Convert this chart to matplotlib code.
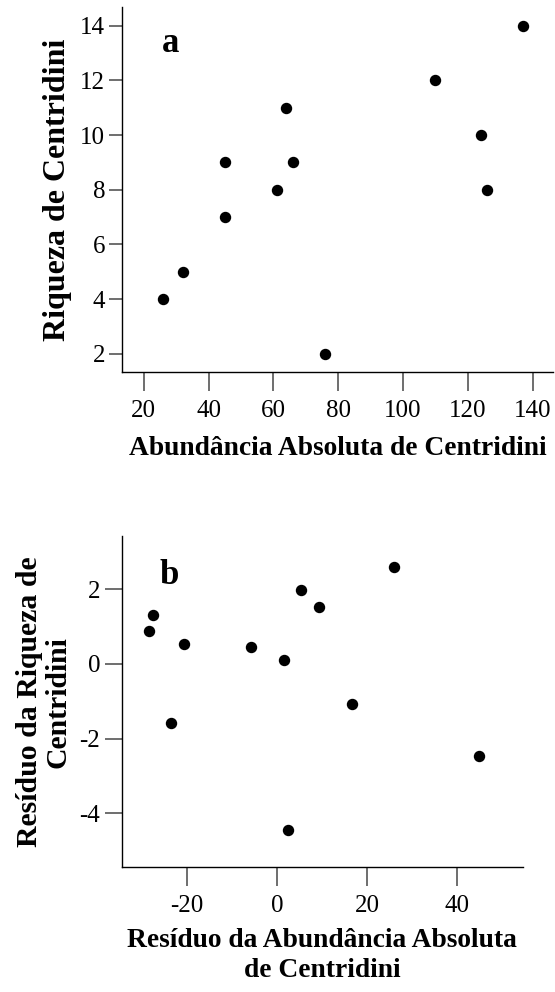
import matplotlib as mpl
mpl.use('Agg')
from matplotlib import pyplot as plt

plt.rcParams.update({
    'font.family': 'Liberation Serif',
    'font.size': 18,
    'axes.linewidth': 1.0,
    'xtick.color': '#555555',
    'ytick.color': '#555555',
    'xtick.labelcolor': 'black',
    'ytick.labelcolor': 'black',
    'xtick.major.width': 1.2,
    'ytick.major.width': 1.2,
})

# panel a: absolute abundance vs richness
abund = [26, 32, 45, 45, 61, 64, 66, 76, 110, 124, 126, 137]
riqueza = [4, 5, 9, 7, 8, 11, 9, 2, 12, 10, 8, 14]
xticks_a = [20, 40, 60, 80, 100, 120, 140]
yticks_a = [2, 4, 6, 8, 10, 12, 14]

# panel b: residuals
res_abund = [-28.4, -27.5, -20.7, -23.5, -5.8, 1.5, 2.5, 5.3, 9.3, 16.6, 25.9, 44.8]
res_riq = [0.87, 1.30, 0.54, -1.57, 0.45, 0.11, -4.45, 1.98, 1.52, -1.06, 2.61, -2.47]
xticks_b = [-20, 0, 20, 40]
yticks_b = [-4, -2, 0, 2]

fig = plt.figure(figsize=(5.55, 9.92), dpi=100)
ax1 = fig.add_axes([0.2204, 0.625, 0.776, 0.368])
ax2 = fig.add_axes([0.2193, 0.1257, 0.7225, 0.334])

for ax in (ax1, ax2):
    ax.spines['top'].set_visible(False)
    ax.spines['right'].set_visible(False)

ax1.plot(abund, riqueza, 'o', color='black', markersize=7.2, linestyle='None')
ax1.set_xlim(13.4, 146.3)
ax1.set_ylim(1.34, 14.68)
ax1.set_xticks(xticks_a)
ax1.set_yticks(yticks_a)
ax1.tick_params(axis='x', length=14, pad=6)
ax1.tick_params(axis='y', length=9.4, pad=3)
ax1.set_xlabel('Abundância Absoluta de Centridini', fontsize=19.8, fontweight='bold', labelpad=10)
ax1.set_ylabel('Riqueza de Centridini', fontsize=23, fontweight='bold', labelpad=6)
ax1.text(0.091, 0.877, 'a', transform=ax1.transAxes, fontsize=25, fontweight='bold')

ax2.plot(res_abund, res_riq, 'o', color='black', markersize=7.2, linestyle='None')
ax2.set_xlim(-34.4, 54.5)
ax2.set_ylim(-5.45, 3.43)
ax2.set_xticks(xticks_b)
ax2.set_yticks(yticks_b)
ax2.set_xticklabels([str(t) for t in xticks_b])
ax2.set_yticklabels([str(t) for t in yticks_b])
ax2.tick_params(axis='x', length=14, pad=6)
ax2.tick_params(axis='y', length=12.5, pad=3)
ax2.set_xlabel('Resíduo da Abundância Absoluta\nde Centridini', fontsize=19.8, fontweight='bold', labelpad=8, linespacing=1.25)
ax2.set_ylabel('Resíduo da Riqueza de\nCentridini', fontsize=21.4, fontweight='bold', labelpad=6, linespacing=1.05)
ax2.text(0.095, 0.855, 'b', transform=ax2.transAxes, fontsize=25, fontweight='bold')

fig.savefig('out.png', dpi=100)
